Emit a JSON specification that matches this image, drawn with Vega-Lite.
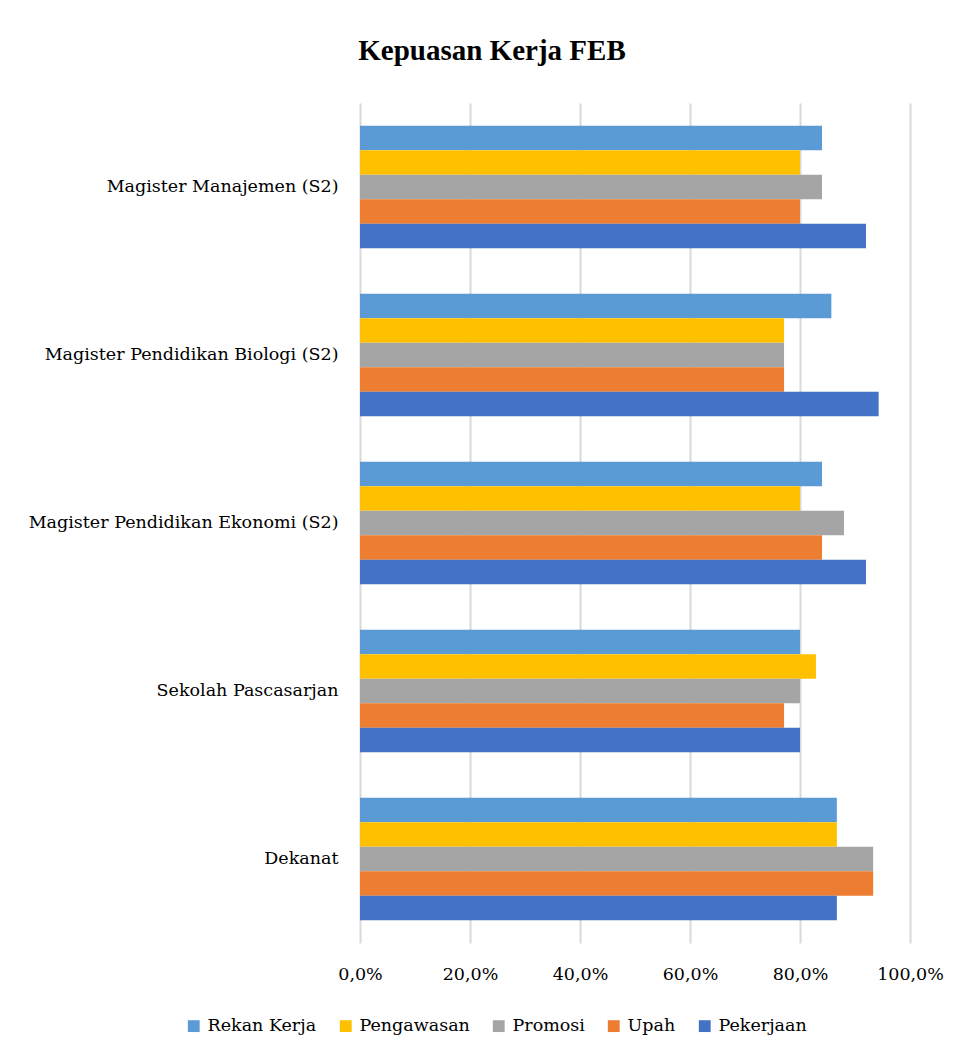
{
  "$schema": "https://vega.github.io/schema/vega-lite/v6.json",
  "autosize": "none",
  "width": 550,
  "height": 840,
  "padding": {"left": 360, "top": 103, "right": 50, "bottom": 119},
  "background": "white",
  "title": {
    "text": "Kepuasan Kerja FEB",
    "font": "Liberation Serif",
    "fontSize": 29,
    "fontWeight": "bold",
    "color": "#000000",
    "anchor": "middle",
    "dx": -143,
    "offset": 37
  },
  "data": {
    "values": [
      {"unit": "Magister Manajemen (S2)", "aspek": "Rekan Kerja", "nilai": 0.84},
      {"unit": "Magister Manajemen (S2)", "aspek": "Pengawasan", "nilai": 0.80},
      {"unit": "Magister Manajemen (S2)", "aspek": "Promosi", "nilai": 0.84},
      {"unit": "Magister Manajemen (S2)", "aspek": "Upah", "nilai": 0.80},
      {"unit": "Magister Manajemen (S2)", "aspek": "Pekerjaan", "nilai": 0.92},
      {"unit": "Magister Pendidikan Biologi (S2)", "aspek": "Rekan Kerja", "nilai": 0.857},
      {"unit": "Magister Pendidikan Biologi (S2)", "aspek": "Pengawasan", "nilai": 0.771},
      {"unit": "Magister Pendidikan Biologi (S2)", "aspek": "Promosi", "nilai": 0.771},
      {"unit": "Magister Pendidikan Biologi (S2)", "aspek": "Upah", "nilai": 0.771},
      {"unit": "Magister Pendidikan Biologi (S2)", "aspek": "Pekerjaan", "nilai": 0.943},
      {"unit": "Magister Pendidikan Ekonomi (S2)", "aspek": "Rekan Kerja", "nilai": 0.84},
      {"unit": "Magister Pendidikan Ekonomi (S2)", "aspek": "Pengawasan", "nilai": 0.80},
      {"unit": "Magister Pendidikan Ekonomi (S2)", "aspek": "Promosi", "nilai": 0.88},
      {"unit": "Magister Pendidikan Ekonomi (S2)", "aspek": "Upah", "nilai": 0.84},
      {"unit": "Magister Pendidikan Ekonomi (S2)", "aspek": "Pekerjaan", "nilai": 0.92},
      {"unit": "Sekolah Pascasarjan", "aspek": "Rekan Kerja", "nilai": 0.80},
      {"unit": "Sekolah Pascasarjan", "aspek": "Pengawasan", "nilai": 0.829},
      {"unit": "Sekolah Pascasarjan", "aspek": "Promosi", "nilai": 0.80},
      {"unit": "Sekolah Pascasarjan", "aspek": "Upah", "nilai": 0.771},
      {"unit": "Sekolah Pascasarjan", "aspek": "Pekerjaan", "nilai": 0.80},
      {"unit": "Dekanat", "aspek": "Rekan Kerja", "nilai": 0.867},
      {"unit": "Dekanat", "aspek": "Pengawasan", "nilai": 0.867},
      {"unit": "Dekanat", "aspek": "Promosi", "nilai": 0.933},
      {"unit": "Dekanat", "aspek": "Upah", "nilai": 0.933},
      {"unit": "Dekanat", "aspek": "Pekerjaan", "nilai": 0.867}
    ]
  },
  "mark": {"type": "bar"},
  "encoding": {
    "y": {
      "field": "unit",
      "type": "nominal",
      "sort": ["Magister Manajemen (S2)", "Magister Pendidikan Biologi (S2)", "Magister Pendidikan Ekonomi (S2)", "Sekolah Pascasarjan", "Dekanat"],
      "scale": {"paddingInner": 0.27, "paddingOuter": 0.135},
      "axis": {
        "title": null,
        "domain": false,
        "ticks": false,
        "labelPadding": 22,
        "labelFont": "DejaVu Serif",
        "labelFontSize": 17.5,
        "labelColor": "#000000",
        "labelLimit": 400
      }
    },
    "yOffset": {
      "field": "aspek",
      "type": "nominal",
      "sort": ["Rekan Kerja", "Pengawasan", "Promosi", "Upah", "Pekerjaan"],
      "scale": {"paddingInner": 0, "paddingOuter": 0}
    },
    "x": {
      "field": "nilai",
      "type": "quantitative",
      "scale": {"domain": [0, 1], "nice": false},
      "axis": {
        "title": null,
        "values": [0, 0.2, 0.4, 0.6, 0.8, 1.0],
        "domain": false,
        "ticks": false,
        "grid": true,
        "gridColor": "#D9D9D9",
        "gridWidth": 2,
        "labelPadding": 22,
        "labelFlush": false,
        "labelFont": "DejaVu Serif",
        "labelFontSize": 17.5,
        "labelColor": "#000000",
        "labelExpr": "replace(format(datum.value, '.1%'), '.', ',')"
      }
    },
    "color": {
      "field": "aspek",
      "type": "nominal",
      "sort": ["Rekan Kerja", "Pengawasan", "Promosi", "Upah", "Pekerjaan"],
      "scale": {
        "domain": ["Rekan Kerja", "Pengawasan", "Promosi", "Upah", "Pekerjaan"],
        "range": ["#5B9BD5", "#FFC000", "#A5A5A5", "#ED7D31", "#4472C4"]
      },
      "legend": {
        "title": null,
        "orient": "none",
        "direction": "horizontal",
        "legendX": -175,
        "legendY": 914,
        "symbolType": "square",
        "symbolSize": 140,
        "symbolStrokeWidth": 0,
        "labelFont": "DejaVu Serif",
        "labelFontSize": 17.5,
        "labelColor": "#000000",
        "labelOffset": 5,
        "columnPadding": 20
      }
    }
  },
  "config": {
    "view": {"stroke": null}
  }
}
